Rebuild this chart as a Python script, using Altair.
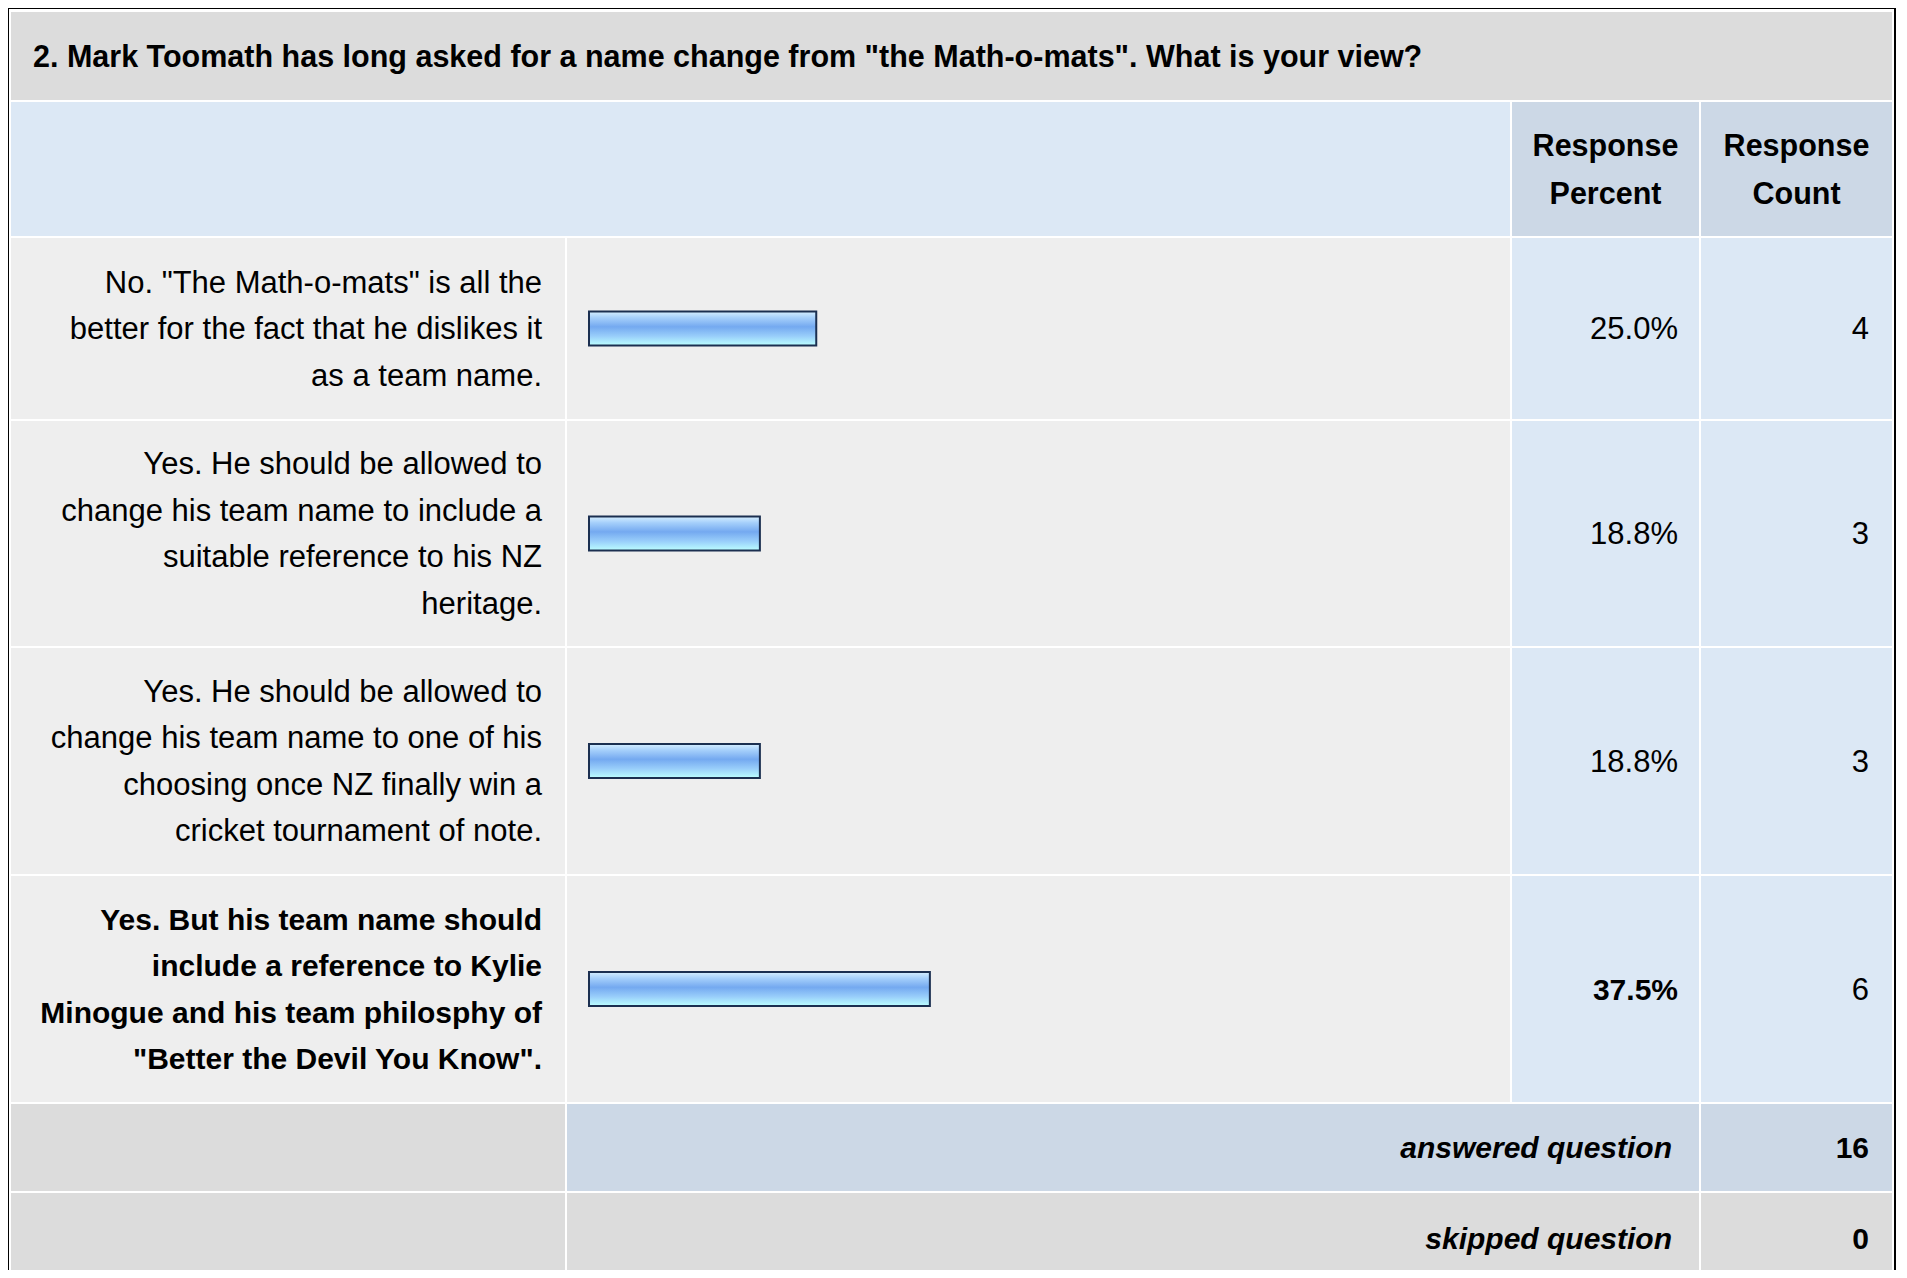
import altair as alt
import pandas as pd

# ---------------- data ----------------
title = '2. Mark Toomath has long asked for a name change from "the Math-o-mats". What is your view?'
answers = [
    'No. "The Math-o-mats" is all the\nbetter for the fact that he dislikes it\nas a team name.',
    'Yes. He should be allowed to\nchange his team name to include a\nsuitable reference to his NZ\nheritage.',
    'Yes. He should be allowed to\nchange his team name to one of his\nchoosing once NZ finally win a\ncricket tournament of note.',
    'Yes. But his team name should\ninclude a reference to Kylie\nMinogue and his team philosphy of\n"Better the Devil You Know".',
]
percents = [25.0, 18.8, 18.8, 37.5]
counts = [4, 3, 3, 6]
header_pct = "Response\nPercent"
header_cnt = "Response\nCount"
summary_labels = ["answered question", "skipped question"]
summary_values = [16, 0]

# ---------------- layout (page pixels, shifted by the 8px body margin) ----------------
M = 8
FONT = "Liberation Sans"
W, H = 1889, 1262
LH = 46.5

cols = [(11, 565), (567, 1510), (1512, 1699), (1701, 1892)]
row_title = (12, 100)
row_head = (102, 236)
rows_ans = [(238, 419), (421, 646), (648, 874), (876, 1102)]
row_answered = (1104, 1191)
row_skipped = (1193, 1320)

GREY = "#dcdcdc"
CELL = "#eeeeee"
BLUE = "#dce8f5"
BLUE2 = "#ccd8e6"

cells = []
def cell(x0, x1, y0, y1, color):
    cells.append(dict(x0=x0 - M, x1=x1 - M, y0=y0 - M, y1=y1 - M, color=color))

cell(7, 1896, 7, 1400, "#000000")
cell(9, 1894, 9, 1400, "#ffffff")
cell(cols[0][0], cols[3][1], *row_title, GREY)
cell(cols[0][0], cols[1][1], *row_head, BLUE)
cell(*cols[2], *row_head, BLUE2)
cell(*cols[3], *row_head, BLUE2)
for r in rows_ans:
    cell(*cols[0], *r, CELL)
    cell(*cols[1], *r, CELL)
    cell(*cols[2], *r, BLUE)
    cell(*cols[3], *r, BLUE)
cell(*cols[0], *row_answered, GREY)
cell(cols[1][0], cols[2][1], *row_answered, BLUE2)
cell(*cols[3], *row_answered, BLUE2)
cell(*cols[0], *row_skipped, GREY)
cell(cols[1][0], cols[2][1], *row_skipped, GREY)
cell(*cols[3], *row_skipped, GREY)
cells_df = pd.DataFrame(cells)

bg = alt.Chart(cells_df).mark_rect(clip=True).encode(
    x=alt.X("x0:Q", scale=None), x2="x1:Q",
    y=alt.Y("y0:Q", scale=None), y2="y1:Q",
    color=alt.Color("color:N", scale=None),
)

# data table
centers = [(a + b) / 2 for a, b in rows_ans]
top_pct = max(percents)
nlines = [a.count("\n") + 1 for a in answers]
df = pd.DataFrame({
    "answer": answers,
    "pct": percents,
    "count": counts,
    "yc": [c - M + 1.5 for c in centers],
    "yfirst": [c - M + 1.5 - (n - 1) / 2 * LH for c, n in zip(centers, nlines)],
    "ytop": [c - M - 17 for c in centers],
    "ybot": [c - M + 17 for c in centers],
    "bold": [p == top_pct for p in percents],
})

BAR_X0 = 589 - M
BAR_X100 = 589 + 909 - M
gradient = {
    "gradient": "linear", "x1": 0, "y1": 0, "x2": 0, "y2": 1,
    "stops": [
        {"offset": 0.0, "color": "#d6efff"},
        {"offset": 0.18, "color": "#a6d0fb"},
        {"offset": 0.45, "color": "#74a9f0"},
        {"offset": 0.72, "color": "#98cdfa"},
        {"offset": 1.0, "color": "#bcffff"},
    ],
}
bars = alt.Chart(df).mark_rect(fill=gradient, stroke="#1b2f50", strokeWidth=2).encode(
    x=alt.X("pct:Q", scale=alt.Scale(domain=[0, 100], range=[BAR_X0, BAR_X100]), axis=None),
    x2=alt.datum(0),
    y=alt.Y("ytop:Q", scale=None), y2="ybot:Q",
)

def label_layer(bold):
    return alt.Chart(df).transform_filter(
        "datum.bold" if bold else "!datum.bold"
    ).mark_text(
        font=FONT, fontSize=30 if bold else 31, fontWeight="bold" if bold else "normal",
        align="right", baseline="middle", lineBreak="\n", lineHeight=LH, color="#000000",
    ).encode(
        x=alt.value(542 - M), y=alt.Y("yfirst:Q", scale=None), text="answer:N",
    )

def pct_layer(bold):
    return alt.Chart(df).transform_filter(
        "datum.bold" if bold else "!datum.bold"
    ).transform_calculate(
        lab="format(datum.pct, '.1f') + '%'"
    ).mark_text(
        font=FONT, fontSize=30 if bold else 31, fontWeight="bold" if bold else "normal",
        align="right", baseline="middle", color="#000000",
    ).encode(
        x=alt.value(1678 - M), y=alt.Y("yc:Q", scale=None), text="lab:N",
    )

count_txt = alt.Chart(df).mark_text(
    font=FONT, fontSize=31, align="right", baseline="middle", color="#000000",
).encode(x=alt.value(1869 - M), y=alt.Y("yc:Q", scale=None), text="count:N")

title_txt = alt.Chart(pd.DataFrame({"t": [title]})).mark_text(
    font=FONT, fontSize=30.5, fontWeight="bold", align="left", baseline="middle", color="#000000",
).encode(x=alt.value(33 - M), y=alt.value(58 - M), text="t:N")

head_df = pd.DataFrame({
    "t": [header_pct, header_cnt],
    "x": [(cols[2][0] + cols[2][1]) / 2 - M, (cols[3][0] + cols[3][1]) / 2 - M],
})
head_txt = alt.Chart(head_df).mark_text(
    font=FONT, fontSize=30.5, fontWeight="bold", align="center", baseline="middle",
    lineBreak="\n", lineHeight=47.5, color="#000000",
).encode(x=alt.X("x:Q", scale=None), y=alt.value(147 - M), text="t:N")

sum_df = pd.DataFrame({
    "lab": summary_labels,
    "val": summary_values,
    "y": [1149 - M, 1240 - M],
})
sum_lab = alt.Chart(sum_df).mark_text(
    font=FONT, fontSize=30, fontWeight="bold", fontStyle="italic",
    align="right", baseline="middle", color="#000000",
).encode(x=alt.value(1672 - M), y=alt.Y("y:Q", scale=None), text="lab:N")
sum_val = alt.Chart(sum_df).mark_text(
    font=FONT, fontSize=30, fontWeight="bold", align="right", baseline="middle", color="#000000",
).encode(x=alt.value(1869 - M), y=alt.Y("y:Q", scale=None), text="val:N")

chart = alt.layer(
    bg, bars, label_layer(False), label_layer(True), pct_layer(False), pct_layer(True),
    count_txt, title_txt, head_txt, sum_lab, sum_val,
).properties(
    width=W, height=H, padding=0, autosize="none",
).configure_view(stroke=None)

chart.save("out.html", embed_options={"renderer": "svg", "actions": False})
